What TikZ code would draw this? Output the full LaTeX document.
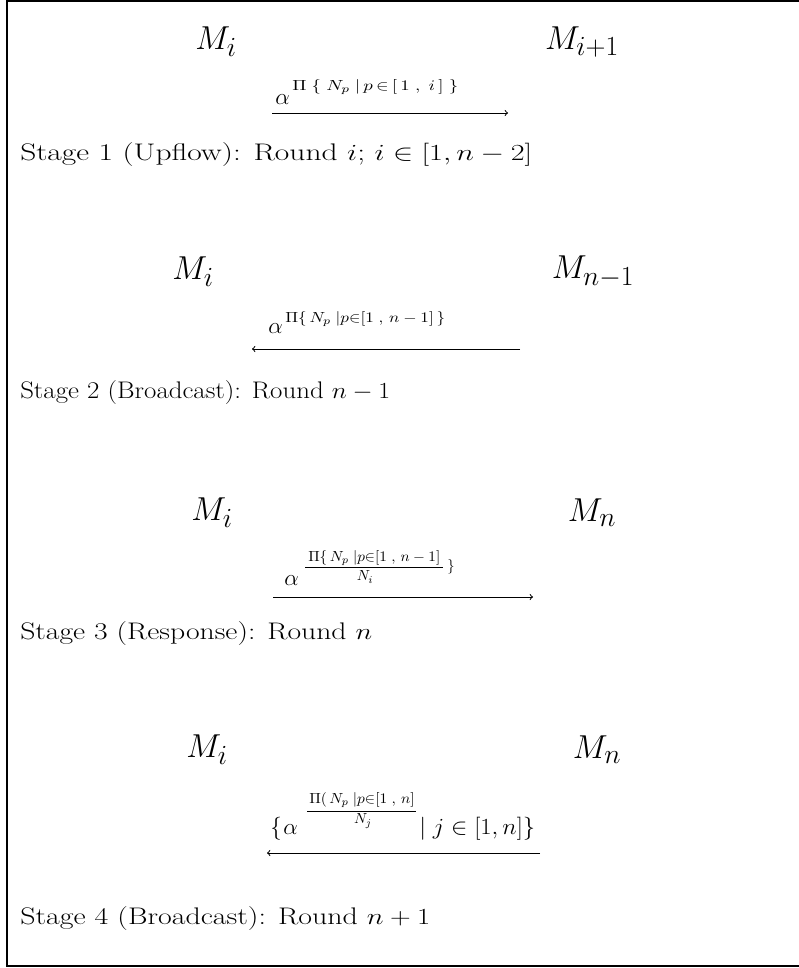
\documentclass[tikz,border=0pt]{standalone}
\usepackage{amsmath}
\usepackage{graphicx}
\newcommand\sx[2]{\resizebox{#1}{\height}{#2}}
\begin{document}
\begin{tikzpicture}[x=0.75pt,y=-0.75pt,
  big/.style={inner sep=0pt,font=\fontsize{30}{36}\selectfont},
  al/.style={inner sep=0pt,anchor=base west,font=\fontsize{16}{19}\selectfont},
  supx/.style={inner sep=0pt,anchor=base west,font=\fontsize{11}{13}\selectfont},
  stagetxt/.style={inner sep=0pt,anchor=base west,font=\fontsize{18}{22}\selectfont},
  arr/.style={line width=0.75pt,-to},
  bar/.style={line width=0.75pt}]
\useasboundingbox (0,0) rectangle (799,968);
\draw[line width=1.5pt] (805,1) -- (7,1) -- (7,966) -- (805,966);
% Stage 1
\node[big] (a1) at (216,42) {$M_i$};
\node[big] (b1) at (582,42) {$M_{i+1}$};
\node[al] (al1) at (275,104) {$\alpha$};
\node[supx] (sp1) at (292,90) {\sx{124.5pt}{$\Pi\;\{\;N_p\;|\,p\,{\in}\,[\,1\;,\;i\,]\;\}$}};
\coordinate (s1) at (272,113);
\coordinate (e1) at (508,113);
\draw[arr] (s1) -- (e1);
\node[stagetxt] (t1) at (20,160) {\sx{384pt}{Stage 1 (Upflow): Round $i$; $i\in[1,n-2]$}};
% Stage 2
\node[big] (a2) at (193,272) {$M_i$};
\node[big] (b2) at (593,272) {$M_{n-1}$};
\node[al] (al2) at (268,333) {$\alpha$};
\node[supx] (sp2) at (285,322) {\sx{120pt}{$\Pi\{\,N_p\;|p{\in}[1\;,\,n-1]\,\}$}};
\coordinate (s2) at (520,349);
\coordinate (e2) at (252,349);
\draw[arr] (s2) -- (e2);
\node[stagetxt] (t2) at (20,398) {\sx{277.5pt}{Stage 2 (Broadcast): Round $n-1$}};
% Stage 3
\node[big] (a3) at (212,513) {$M_i$};
\node[big] (b3) at (592,513) {$M_n$};
\node[al] (al3) at (284,585) {$\alpha$};
\node[supx] (nu3) at (308,561) {\sx{99pt}{$\Pi\{\,N_p\;|p{\in}[1\;,\,n-1]$}};
\coordinate (f3a) at (305,567);
\coordinate (f3b) at (443,567);
\draw[bar] (f3a) -- (f3b);
\node[supx,anchor=center] (de3) at (365,577) {$N_i$};
\node[supx,anchor=center] (br3) at (451,567) {$\}$};
\coordinate (s3) at (273,597);
\coordinate (e3) at (533,597);
\draw[arr] (s3) -- (e3);
\node[stagetxt] (t3) at (20,639) {\sx{264pt}{Stage 3 (Response): Round $n$}};
% Stage 4
\node[big] (a4) at (207,750) {$M_i$};
\node[big] (b4) at (597,750) {$M_n$};
\node[al] (lb4) at (270,834) {$\{$};
\node[al] (al4) at (283,834) {$\alpha$};
\node[supx] (nu4) at (309,803) {\sx{79pt}{$\Pi(\,N_p\;|p{\in}[1\;,\,n]$}};
\coordinate (f4a) at (307,811);
\coordinate (f4b) at (416,811);
\draw[bar] (f4a) -- (f4b);
\node[supx,anchor=center] (de4) at (363,821) {$N_j$};
\node[al] (rs4) at (419,834) {\sx{87pt}{$|\;j\in[1,n]\}$}};
\coordinate (s4) at (540,853);
\coordinate (e4) at (267,853);
\draw[arr] (s4) -- (e4);
\node[stagetxt] (t4) at (20,924) {\sx{307.5pt}{Stage 4 (Broadcast): Round $n+1$}};
\end{tikzpicture}
\end{document}
